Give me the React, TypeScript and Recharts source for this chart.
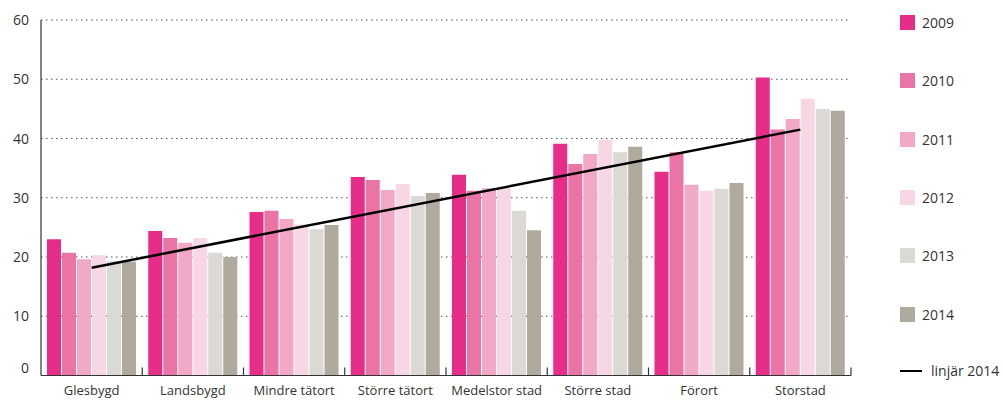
import { Bar, ComposedChart, Line, XAxis, YAxis, CartesianGrid } from 'recharts'

const categories = ['Glesbygd', 'Landsbygd', 'Mindre tätort', 'Större tätort', 'Medelstor stad', 'Större stad', 'Förort', 'Storstad']
const years = ['2009', '2010', '2011', '2012', '2013', '2014']
const colors = ['#e62e88', '#eb74a6', '#f2a9c8', '#f8d7e4', '#dad9d3', '#b0a99e']

const v2009 = [23.0, 24.4, 27.6, 33.5, 33.9, 39.1, 34.4, 50.3]
const v2010 = [20.7, 23.2, 27.8, 33.0, 31.2, 35.7, 37.7, 41.5]
const v2011 = [19.6, 22.4, 26.4, 31.3, 31.6, 37.4, 32.2, 43.3]
const v2012 = [20.3, 23.2, 25.5, 32.3, 31.6, 39.8, 31.2, 46.7]
const v2013 = [19.3, 20.7, 24.7, 30.3, 27.8, 37.7, 31.5, 45.0]
const v2014 = [19.2, 20.0, 25.4, 30.8, 24.5, 38.6, 32.5, 44.7]
const trend2014 = [18.2, null, null, null, null, null, null, 41.5]
const yTicks = [0, 10, 20, 30, 40, 50, 60]

const series = [v2009, v2010, v2011, v2012, v2013, v2014]

const data = categories.map((name, i) => {
  const row: Record<string, string | number | null> = { name, trend: trend2014[i] }
  years.forEach((y, s) => {
    row[y] = series[s][i]
  })
  return row
})

const FONT = '"Open Sans", "Noto Sans", sans-serif'

function XTick(props: any) {
  const { x, y, payload } = props
  const half = payload.offset ?? 50.6
  return (
    <g>
      <text x={x} y={y + 19} textAnchor="middle" fontSize={13} fill="#333" fontFamily={FONT}>
        {payload.value}
      </text>
      <line x1={x + half} x2={x + half} y1={y - 8} y2={y} stroke="#333" strokeWidth={1.2} />
    </g>
  )
}

function YTick(props: any) {
  const { x, y, payload } = props
  return (
    <text x={x - 12} y={y + (payload.value === 0 ? -3 : 5)} textAnchor="end" fontSize={14} fill="#333" fontFamily={FONT}>
      {payload.value}
    </text>
  )
}

function LegendBox() {
  return (
    <div style={{ position: 'absolute', left: 900, top: 0, fontFamily: FONT, color: '#333' }}>
      {years.map((y, i) => (
        <div key={y} style={{ position: 'absolute', top: 15 + i * 58.3, left: 0, display: 'flex', alignItems: 'center', whiteSpace: 'nowrap' }}>
          <div style={{ width: 15, height: 15, background: colors[i] }} />
          <span style={{ marginLeft: 7, fontSize: 14, lineHeight: '15px' }}>{y}</span>
        </div>
      ))}
      <div style={{ position: 'absolute', top: 362, left: 0, display: 'flex', alignItems: 'center', whiteSpace: 'nowrap' }}>
        <div style={{ width: 22, height: 2.5, background: '#000' }} />
        <span style={{ marginLeft: 9, fontSize: 14, lineHeight: '18px' }}>linjär 2014</span>
      </div>
    </div>
  )
}

export default function App() {
  return (
    <div style={{ position: 'absolute', left: 0, top: 0, width: 1003, height: 403, background: '#fff' }}>
      <ComposedChart
        width={1003}
        height={403}
        data={data}
        margin={{ top: 20, right: 152, left: 0, bottom: 0 }}
        barCategoryGap={5}
        barGap={1}
      >
        <CartesianGrid vertical={false} stroke="#555" strokeWidth={1.2} strokeDasharray="1.5 3.5" />
        <XAxis
          dataKey="name"
          height={27.5}
          tickSize={0}
          tickMargin={0}
          tickLine={false}
          axisLine={{ stroke: '#333', strokeWidth: 1.2 }}
          tick={<XTick />}
          interval={0}
        />
        <YAxis
          width={41}
          domain={[0, 60]}
          ticks={yTicks}
          tickSize={0}
          tickMargin={0}
          tickLine={false}
          axisLine={{ stroke: '#333', strokeWidth: 1.2 }}
          tick={<YTick />}
        />
        {years.map((y, i) => (
          <Bar key={y} dataKey={y} fill={colors[i]} barSize={14} isAnimationActive={false} />
        ))}
        <Line
          dataKey="trend"
          stroke="#000"
          strokeWidth={2.5}
          dot={false}
          connectNulls
          isAnimationActive={false}
        />
      </ComposedChart>
      <LegendBox />
    </div>
  )
}
